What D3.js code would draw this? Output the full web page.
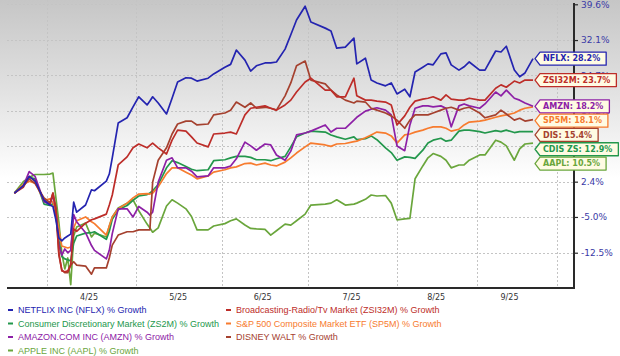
<!DOCTYPE html>
<html><head><meta charset="utf-8">
<script src="https://cdn.jsdelivr.net/npm/d3@7"></script>
<style>body{margin:0;background:#fff}svg{display:block}</style>
</head><body><svg id="c" width="620" height="356"></svg>
<script>
// ---------------- DATA ----------------
const dates = ["2025-03-21","2025-03-24","2025-03-26","2025-03-28","2025-03-31",
"2025-04-02","2025-04-03","2025-04-04","2025-04-05","2025-04-06","2025-04-07","2025-04-08","2025-04-09","2025-04-10","2025-04-11","2025-04-14","2025-04-16","2025-04-17","2025-04-21","2025-04-22","2025-04-23","2025-04-25","2025-04-28","2025-04-30",
"2025-05-02","2025-05-05","2025-05-06","2025-05-07","2025-05-09","2025-05-12","2025-05-14","2025-05-16","2025-05-19","2025-05-21","2025-05-23","2025-05-27","2025-05-29",
"2025-06-02","2025-06-04","2025-06-06","2025-06-09","2025-06-11","2025-06-13","2025-06-16","2025-06-18","2025-06-20","2025-06-23","2025-06-25","2025-06-27","2025-06-30",
"2025-07-02","2025-07-07","2025-07-09","2025-07-11","2025-07-14","2025-07-17","2025-07-18","2025-07-21","2025-07-23","2025-07-25","2025-07-28","2025-07-30",
"2025-08-01","2025-08-04","2025-08-06","2025-08-08","2025-08-11","2025-08-13","2025-08-15","2025-08-18","2025-08-20","2025-08-22","2025-08-25","2025-08-27","2025-08-29",
"2025-09-02","2025-09-04","2025-09-08","2025-09-10","2025-09-12","2025-09-15","2025-09-17","2025-09-19","2025-09-22"];

const nflx = [0,1.5,3.5,2.5,-1.5,
-2.5,-2.8,-5.6,-9.4,-10,-9.4,-9,-8.6,-1.9,-4,-2.5,0.7,0.5,2.5,4,7.4,14.7,15.8,18.1,
20.2,18.5,19.3,20.2,18.9,16.6,19.9,23.3,24.2,24.1,23.5,24.1,25,
26.4,27,30,27.9,25.6,26.7,27.3,27.3,27.5,30.2,33.2,36.3,39.2,
35.9,34.6,34,30.4,30.6,32.5,27.1,28.3,23.7,23.1,22.5,23.1,
20.8,21.8,20.2,25.4,26.4,27.1,26.9,29.2,29.4,26.9,25.8,26.5,27.5,
25.8,25.8,29.8,29.6,30.8,25.8,24.4,25.2,28.2];

const zsi32m = [0,1.2,3.5,2.5,-1.5,
-2.3,0,-3.5,-12.5,-16.3,-16.5,-16.3,-15,-7.5,-8,-6.3,-5.6,-5.4,-4.4,-2.5,-0.4,5.9,7.6,9.5,
10.3,9.5,10,10.5,9.5,8.2,11.1,13.2,13,11.8,10.5,9.7,12.4,
12.6,12.8,12.4,16.4,17.8,18,18.3,17.8,17.4,18.5,19.5,21.2,23.3,
24.1,21.6,21.6,20.2,20.2,24.1,20.4,19.5,19.5,19.3,19.1,18.5,
14.3,16.2,18,19.3,19.7,19.9,20.2,19.5,20.6,19.7,19.5,19.5,19.9,
19.5,19.5,22,22.7,22.2,23.5,23.1,23.7,23.7];

const zs2m = [0,1.7,3.3,3,-2.3,
-2.6,-2.2,-4.5,-10,-13.3,-13.8,-14,-14.2,-10.5,-9,-8.4,-8.3,-8.1,-9.7,-8,-5.5,-3.5,-2.6,-1.5,
-0.6,-0.3,0,0.5,1.8,5.3,6.8,6.4,5.6,5,4.7,4.9,6.8,
7,7.4,7.7,7.7,7.5,7,7,6.8,7.2,7.7,9.7,11.8,12.6,
13,12.8,12.2,11.8,11.3,11.8,11.2,11.4,12,11.2,9.5,8.5,
6.9,7.6,7.5,7.3,9,10.5,11.1,11.5,10.9,11.1,13,13.2,13.2,
12.9,12.6,13.1,12.9,13.2,12.7,12.9,12.9,12.9];

const sp5m = [0,1.8,2.5,2.1,-1.5,
-1.2,-2,-3.9,-7.7,-11.1,-11.3,-11.5,-11.3,-7.3,-5.8,-5,-6,-6.4,-8.8,-6.9,-5,-3.3,-2.1,-1,
-0.2,-0.1,-0.2,0,1.3,4.1,5.3,5.3,4.4,3.8,3,3.6,4.4,
4.9,5.3,5.5,6.2,6.3,5.9,6.3,5.9,5.7,6.5,7.4,8.4,9.7,
10.5,10.1,9.8,10.3,10.4,10.8,10.9,11.6,12.2,12.8,12.6,12,
10.5,12.2,12.4,12.8,13.2,13.6,13.9,13.9,13.6,13,13.4,14.3,14.9,
15.1,15.3,15.9,16.2,16.4,16.8,17.4,17.8,18.1];

const amzn = [0,1.5,4.5,3.5,-1.8,
-2.4,-0.5,-3.5,-11,-13,-11.7,-12.5,-12,-4.5,-6,-8.3,-11,-12,-13.8,-12,-8.5,-3.3,-3.3,-5,
-2.8,-4,-4.6,-4,2.3,6.9,7.4,5.3,5.3,4.6,3.4,3.6,5.3,
5.3,5.7,7.2,10.7,9.9,9,10.3,10.1,8,6.9,8.8,12.2,12.6,
13,14.3,12.8,13.6,13.6,15.3,15.9,17.2,17.6,17.9,17.4,16.4,
9.9,8.9,14.3,17.8,18.3,18.3,18.1,18.3,17.8,13.9,18.3,18.7,18.3,
17.8,18.7,21.2,20.4,21.6,19.9,19.5,18.9,18.2];

const dis = [0,1.5,3,2,-1,
-2,0,-3,-13,-16.1,-16.7,-16.7,-15.1,-14.4,-15.1,-15.3,-17,-15.7,-15.7,-13.6,-10.9,-8.8,-8.1,-8.1,
-7.7,-7.7,-7.7,2.3,6.9,9.5,12.4,14.5,15.1,15.1,14.3,14.5,16.4,
16.8,17.4,19.1,18,18.9,17.8,18,17.8,17.4,20.4,23.1,26.7,27.7,
23.7,22.9,21.6,20.6,19.5,18.9,19.3,19.1,17.8,17.4,16.8,16.2,
15.3,13.6,15.3,16.4,16.4,16.4,16.8,17.4,17.8,18,17.4,17.8,18,
16.8,15.8,16.4,17.4,16.6,15.3,15.7,15.1,15.4];

const aapl = [0,2.4,3.3,3.9,3.9,
4,4.2,-1,-6.1,-12.6,-15.9,-13.6,-19.2,-9,-7.1,-6.3,-9.2,-8.4,-9.2,-6.9,-5,-3.1,-2.1,-1.4,
-3.7,-6.5,-7.3,-8.2,-7.3,-2.7,-1.4,-2.1,-3.3,-4.9,-7.7,-7.7,-6.9,
-6.4,-5.8,-5.4,-6.7,-7.4,-7.5,-7.6,-8.8,-7.9,-6.5,-6.7,-5.8,-4.4,
-2.5,-2.3,-2.1,-1.4,-2.5,-2.3,-2.1,-1.3,-0.4,-0.6,-0.5,-2.1,
-5.6,-5.4,-5.3,3,5.7,7.4,8.3,7.7,6.9,5.3,5.9,5.9,6.9,
8,8,11.1,10.7,9.9,6.9,9.3,10.3,10.5];

const seriesKeys   = ["AAPL","ZS2M","SP5M","AMZN","DIS","ZSI32M","NFLX"];
const seriesNames  = ["APPLE INC (AAPL) % Growth","Consumer Discretionary Market (ZS2M) % Growth","S&P 500 Composite Market ETF (SP5M) % Growth","AMAZON.COM INC (AMZN) % Growth","DISNEY WALT % Growth","Broadcasting-Radio/Tv Market (ZSI32M) % Growth","NETFLIX INC (NFLX) % Growth"];
const seriesTags   = ["AAPL","CDIS ZS","SP5M","AMZN","DIS","ZSI32M","NFLX"];
const seriesValues = [aapl, zs2m, sp5m, amzn, dis, zsi32m, nflx];
const seriesColors = ["#6aa63c","#23974c","#f77b2e","#8d20a6","#a5412f","#bd2d29","#2424b0"];

const yTicks = [39.6, 32.1, 24.7, 17.2, 9.8, 2.4, -5.0, -12.5];
const monthStarts = ["2025-04-01","2025-05-01","2025-06-01","2025-07-01","2025-08-01","2025-09-01","2025-10-01"];
const xLabelDates = ["2025-04-15","2025-05-16","2025-06-15","2025-07-16","2025-08-16","2025-09-13"];
const legendOrder = ["NFLX","ZSI32M","ZS2M","SP5M","AMZN","DIS","AAPL"];

// ---------------- CHART ----------------
(function(){
const parse = d3.utcParse("%Y-%m-%d");
const svg = d3.select("#c");
const W = 620, pLeft = 7, pRight = 574, pTop = 0, pBottom = 288;

const x = d3.scaleUtc().domain(monthStarts.map(parse)).range([47,136,222,308,397,477,557]);
const y = d3.scaleLinear().domain([-19.9, 40.5]).range([pBottom, pTop]);

const defs = svg.append("defs");
const g = defs.append("linearGradient").attr("id","bg").attr("x1",0).attr("y1",0).attr("x2",0).attr("y2",1);
g.append("stop").attr("offset","0%").attr("stop-color","#c6c6c6");
g.append("stop").attr("offset","30%").attr("stop-color","#e0e0e0");
g.append("stop").attr("offset","62%").attr("stop-color","#ffffff");
g.append("stop").attr("offset","100%").attr("stop-color","#ffffff");
svg.append("rect").attr("x",0).attr("y",0).attr("width",W).attr("height",pBottom).attr("fill","url(#bg)");

// grid
svg.append("g").selectAll("line").data(yTicks).join("line")
  .attr("x1",pLeft).attr("x2",pRight).attr("y1",d=>Math.round(y(d))+0.5).attr("y2",d=>Math.round(y(d))+0.5)
  .attr("stroke","#c4c4c4").attr("stroke-dasharray","2,2").attr("stroke-width",1);
svg.append("g").selectAll("line").data(monthStarts.map(parse)).join("line")
  .attr("x1",d=>Math.round(x(d))+0.5).attr("x2",d=>Math.round(x(d))+0.5).attr("y1",pTop).attr("y2",pBottom)
  .attr("stroke","#c4c4c4").attr("stroke-dasharray","2,2").attr("stroke-width",1);

// lines
const parsedDates = dates.map(parse);
const line = d3.line().x((d,i)=>x(parsedDates[i])).y(d=>y(d));
svg.append("g").selectAll("path").data(seriesValues).join("path")
  .attr("d", d=>line(d)).attr("fill","none")
  .attr("stroke",(d,i)=>seriesColors[i]).attr("stroke-width",1.7)
  .attr("stroke-linejoin","round");

// axes
svg.append("line").attr("x1",pLeft).attr("x2",pRight+1).attr("y1",pBottom).attr("y2",pBottom)
  .attr("stroke","#2a2a2a").attr("stroke-width",2);
const yAxis = svg.append("g").attr("transform",`translate(${pRight},0)`)
  .call(d3.axisRight(y).tickValues(yTicks).tickFormat(d=>d.toFixed(1)+"%").tickSize(4).tickSizeOuter(0).tickPadding(3));
yAxis.select(".domain").attr("stroke","#2a2a2a").attr("stroke-width",2).attr("d",`M0,3V${pBottom+1}`);
yAxis.selectAll(".tick line").attr("stroke","#2a2a2a").attr("stroke-width",1.2);
yAxis.selectAll("text").attr("fill","#3a3aa6").style("font-family","DejaVu Sans").style("font-size","9px");

const xAxis = svg.append("g").attr("transform",`translate(0,${pBottom})`)
  .call(d3.axisBottom(x).tickValues(xLabelDates.map(parse)).tickFormat(d3.utcFormat("%-m/%y")).tickSize(0).tickPadding(6));
xAxis.select(".domain").remove();
xAxis.selectAll("text").attr("fill","#333").style("font-family","DejaVu Sans").style("font-size","8px");

// callouts
const ends = seriesKeys.map((k,i)=>({k, tag:seriesTags[i], v:seriesValues[i][seriesValues[i].length-1], c:seriesColors[i]}))
  .sort((a,b)=>b.v-a.v);
let prev = -Infinity;
ends.forEach(e=>{ e.ly = Math.max(y(e.v), prev + 14.3); prev = e.ly; });
const cg = svg.append("g").selectAll("g").data(ends).join("g")
  .attr("transform",d=>`translate(535,${d.ly})`);
cg.append("text").attr("x",8).attr("y",0).attr("dy","0.35em")
  .attr("fill",d=>d.c).style("font-family","DejaVu Sans").style("font-weight","bold").style("font-size","8px")
  .text(d=>`${d.tag}: ${d.v.toFixed(1)}%`);
cg.each(function(d){
  const t = d3.select(this).select("text").node();
  const w = t.getComputedTextLength() + 14;
  d3.select(this).insert("path","text")
    .attr("d",`M0,0L5,-6.5H${w}V6.5H5Z`)
    .attr("fill","#fffbe3").attr("stroke",d.c).attr("stroke-width",1.3).attr("stroke-linejoin","round");
});

// legend
const legRows = [310, 323.5, 337, 350.5];
const legItems = legendOrder.map((k,j)=>{
  const i = seriesKeys.indexOf(k);
  return {name:seriesNames[i], c:seriesColors[i], col:j%2, row:Math.floor(j/2)};
});
const lg = svg.append("g").selectAll("g").data(legItems).join("g")
  .attr("transform",d=>`translate(${d.col? 226 : 8},${legRows[d.row]})`);
lg.append("rect").attr("x",0).attr("y",-1).attr("width",5).attr("height",2).attr("fill",d=>d.c);
lg.append("text").attr("x",10).attr("dy","0.35em").attr("fill",d=>d.c)
  .style("font-family","Liberation Sans, Arial").style("font-size","9px").text(d=>d.name);
})();
</script></body></html>
